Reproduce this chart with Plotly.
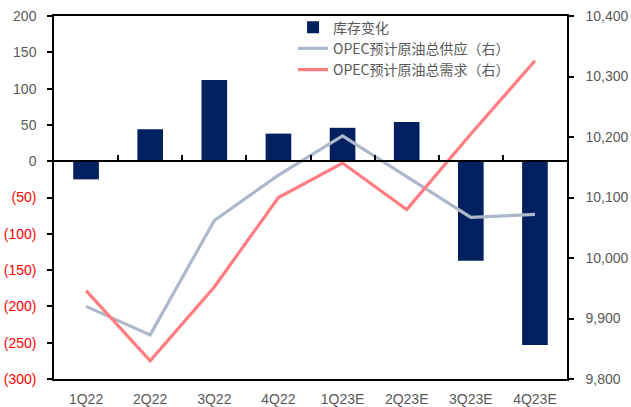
import plotly.graph_objects as go

categories = ["1Q22", "2Q22", "3Q22", "4Q22", "1Q23E", "2Q23E", "3Q23E", "4Q23E"]
inventory_change = [-25, 44, 112, 38, 46, 54, -137, -253]
opec_supply = [9920, 9873, 10062, 10137, 10202, 10134, 10067, 10072]
opec_demand = [9946, 9830, 9952, 10100, 10157, 10080, 10205, 10326]

left_ticks = [200, 150, 100, 50, 0, -50, -100, -150, -200, -250, -300]
right_ticks = [9800, 9900, 10000, 10100, 10200, 10300, 10400]

GRAY_TXT = "#595959"
NEG_RED = "#FF0000"

def left_label(v):
    if v < 0:
        return f'<span style="color:{NEG_RED}">({abs(v)})</span>'
    return str(v)

fig = go.Figure()
fig.add_trace(go.Bar(
    x=categories, y=inventory_change, name="库存变化",
    marker=dict(color="#002060", line=dict(width=0)), width=0.4,
    xaxis="x", yaxis="y",
))
fig.add_trace(go.Scatter(
    x=categories, y=opec_supply, name="OPEC预计原油总供应（右）",
    mode="lines", line=dict(color="#ADB9CA", width=3.2),
    xaxis="x", yaxis="y2",
))
fig.add_trace(go.Scatter(
    x=categories, y=opec_demand, name="OPEC预计原油总需求（右）",
    mode="lines", line=dict(color="#FF7C80", width=3.2),
    xaxis="x", yaxis="y2",
))
# invisible helper trace so the zero-line category axis is drawn
fig.add_trace(go.Scatter(x=[None], y=[None], xaxis="x2", yaxis="y",
                         showlegend=False, hoverinfo="skip"))

font_family = "Liberation Sans, Noto Sans CJK SC, sans-serif"

fig.update_layout(
    width=631, height=407,
    margin=dict(l=54, r=64, t=16, b=28, autoexpand=False),
    paper_bgcolor="white", plot_bgcolor="white",
    font=dict(family=font_family, size=13, color=GRAY_TXT),
    showlegend=True,
    legend=dict(
        x=0.466, y=1.012, xanchor="left", yanchor="top",
        bgcolor="rgba(0,0,0,0)", borderwidth=0,
        font=dict(size=14, color=GRAY_TXT, family="Noto Sans CJK SC, Liberation Sans, sans-serif"),
        tracegroupgap=0, itemwidth=30,
    ),
    xaxis=dict(
        type="category", categoryarray=categories, range=[-0.5, 7.5],
        showline=True, linecolor="black", linewidth=1.5, mirror=True,
        ticks="", showgrid=False, zeroline=False, automargin=False,
        tickfont=dict(size=14, color=GRAY_TXT),
        ticklabelstandoff=6,
    ),
    xaxis2=dict(
        overlaying="x", anchor="free", position=0.6, range=[-0.5, 7.5],
        tickvals=[0.5, 1.5, 2.5, 3.5, 4.5, 5.5, 6.5],
        ticks="inside", ticklen=5, tickcolor="black", tickwidth=1.5,
        showticklabels=False, showline=True, linecolor="black", linewidth=1.5,
        showgrid=False, zeroline=False, automargin=False,
    ),
    yaxis=dict(
        range=[-300, 200], tickvals=left_ticks,
        ticktext=[left_label(v) for v in left_ticks],
        showline=True, linecolor="black", linewidth=1.5,
        ticks="outside", ticklen=5, tickcolor="black", tickwidth=1.5,
        showgrid=False, zeroline=False, automargin=False,
        tickfont=dict(size=14, color=GRAY_TXT),
        ticklabelstandoff=8,
    ),
    yaxis2=dict(
        range=[9800, 10400], tickvals=right_ticks, tickformat=",",
        overlaying="y", side="right", anchor="x",
        showline=True, linecolor="black", linewidth=1.5,
        ticks="outside", ticklen=5, tickcolor="black", tickwidth=1.5,
        showgrid=False, zeroline=False, automargin=False,
        tickfont=dict(size=14, color=GRAY_TXT),
        ticklabelstandoff=9,
    ),
)

fig.write_html(
    "out.html",
    config={"displayModeBar": False},
    post_script="document.body.style.margin='0';document.body.style.overflow='hidden';",
)
